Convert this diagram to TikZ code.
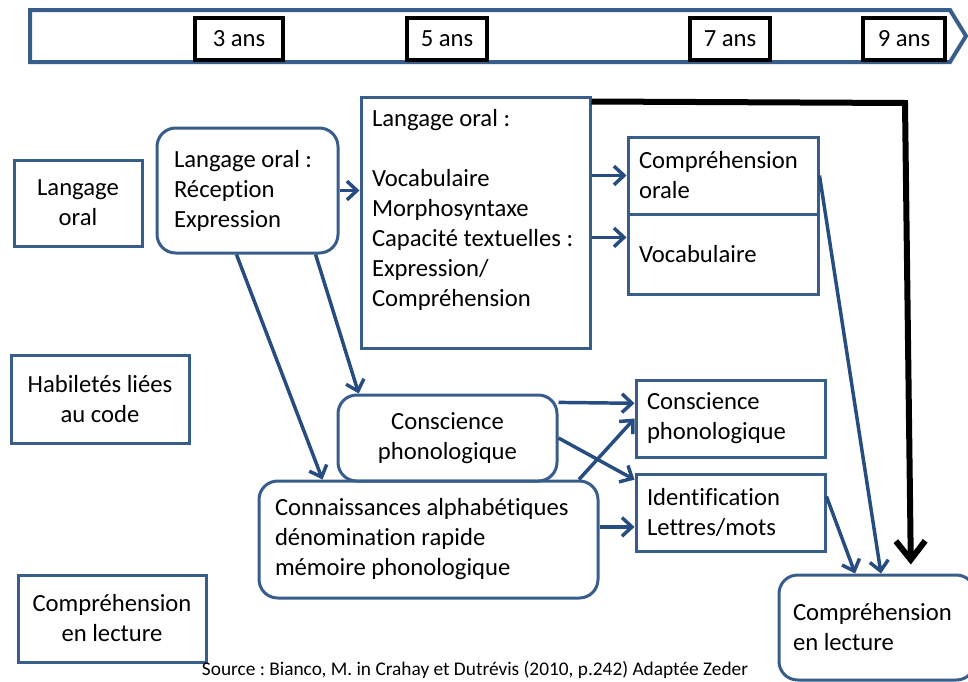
\documentclass[tikz,border=0pt]{standalone}
\usepackage{fontspec}
\setmainfont{Carlito}[Ligatures=NoCommon]
\usepackage{tikz}
\usetikzlibrary{arrows.meta,positioning,calc}
\definecolor{myblue}{RGB}{56,93,138}
\definecolor{myarrow}{RGB}{38,76,128}
\frenchspacing

\begin{document}
\begin{tikzpicture}[x=0.75pt, y=-0.75pt,
    font=\fontsize{18.5}{22.5}\selectfont,
    box/.style={draw=myblue, line width=2.25pt, inner ysep=0pt},
    roundbox/.style={box, rounded corners=14pt},
    yearbox/.style={draw=black, line width=2.6pt, minimum height=31.5pt, inner sep=0pt},
    link/.style={myarrow, line width=2.6pt, -{Straight Barb[length=7.5pt,width=14pt]}}]
  \useasboundingbox (0,0) rectangle (968,682);

  % timeline
  \draw[myblue, line width=3pt] (30,10) -- (950,10) -- (966,36) -- (950,62) -- (30,62) -- cycle;
  \foreach \n/\x/\w in {3/239/66, 5/447/60, 7/730/60, 9/904/61.5}{
    \node[yearbox, minimum width=\w pt] (y\n) at (\x,39) {\n\ ans};
  }

  % row labels
  \node[box, align=center, minimum width=96pt, minimum height=64.5pt] (lblOral) at (78,203) {Langage\\oral};
  \node[box, align=center, minimum width=133.5pt, minimum height=66pt] (lblCode) at (100,399) {Habiletés liées\\au code};
  \node[box, align=center, minimum width=141pt, minimum height=65.25pt] (lblLect) at (112,618.5) {Compréhension\\en lecture};

  % langage oral
  \node[roundbox, align=flush left, inner xsep=12.75pt, text width=110.25pt, minimum height=93.75pt] (lo) at (247.5,190.5)
    {Langage oral :\\Réception\\Expression};
  \node[box, align=flush left, inner xsep=8.25pt, text width=155.25pt, minimum height=188.25pt] (big) at (475.5,222.5)
    {Langage oral :\\\mbox{}\\Vocabulaire\\Morphosyntaxe\\\mbox{Capacité textuelles :}\\Expression/\\Compréhension\\\mbox{}};
  \node[box, align=flush left, inner xsep=8.25pt, text width=126pt, minimum height=57.75pt] (co) at (723,175.5)
    {Compréhension\\orale};
  \node[box, align=flush left, inner xsep=8.25pt, text width=126pt, minimum height=60pt] (voc) at (723,254) {Vocabulaire};

  % code
  \node[roundbox, align=center, minimum width=164.25pt, minimum height=64.5pt] (cp) at (447.5,438)
    {Conscience\\phonologique};
  \node[roundbox, align=flush left, inner xsep=12pt, text width=230.25pt, minimum height=87.75pt] (conn) at (428.5,539.5)
    {Connaissances alphabétiques\\dénomination rapide\\mémoire phonologique};
  \node[box, align=flush left, inner xsep=8.25pt, text width=125.25pt, minimum height=57.75pt] (cpr) at (730.5,418.5)
    {Conscience\\phonologique};
  \node[box, align=flush left, inner xsep=8.25pt, text width=125.25pt, minimum height=57.75pt] (ident) at (730.5,512.5)
    {Identification\\Lettres/mots};

  % lecture
  \node[roundbox, align=flush left, inner xsep=10.5pt, text width=126pt, minimum height=78.75pt] (lect) at (877,627.5)
    {Compréhension\\en lecture};

  \node[font=\fontsize{14.5}{16}\selectfont, inner sep=0pt] (src) at (475,670)
    {Source : Bianco, M. in Crahay et Dutrévis (2010, p.242) Adaptée Zeder};

  % arrows
  \draw[link] (lo.east) -- (big.west |- lo.east);
  \draw[link] (big.east |- co.west) -- (co.west);
  \draw[link] (big.east |- {$(voc.north west)!0.3!(voc.south west)$}) -- ($(voc.north west)!0.3!(voc.south west)$);
  \draw[link] ($(lo.south west)!0.87!(lo.south east)$) -- ($(cp.north west)!0.1!(cp.north east)$);
  \draw[link] ($(lo.south west)!0.44!(lo.south east)$) -- ($(conn.north west)!0.19!(conn.north east)$);
  \draw[link] ($(cp.north east)!0.1!(cp.south east)$) -- ($(cpr.north west)!0.31!(cpr.south west)$);
  \draw[link] (cp.east) -- ($(ident.north west)!0.09!(ident.south west)$);
  \draw[link] ($(conn.north west)!0.94!(conn.north east)$) -- (cpr.west);
  \draw[link] (conn.east |- {$(ident.north west)!0.68!(ident.south west)$}) -- ($(ident.north west)!0.68!(ident.south west)$);
  \draw[link] ($(ident.north east)!0.3!(ident.south east)$) -- ($(lect.north west)!0.39!(lect.north east)$);
  \draw[link] (co.east) -- ($(lect.north west)!0.52!(lect.north east)$);
  \draw[black, line width=4.5pt, -{Straight Barb[length=14pt,width=22pt]}]
    ($(big.north east)+(0,6)$) -- (905,103) -- ($(lect.north west)!0.67!(lect.north east)+(0,-9)$);
\end{tikzpicture}
\end{document}
